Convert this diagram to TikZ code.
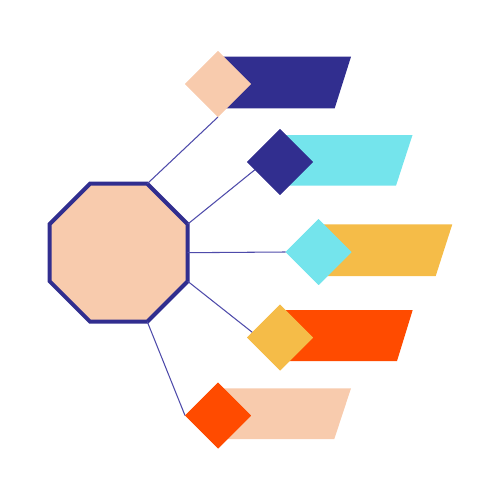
\documentclass[tikz,border=0pt]{standalone}
\usetikzlibrary{shapes.geometric}
\definecolor{navy}{HTML}{312E8F}
\definecolor{peach}{HTML}{F8CBAD}
\definecolor{cyanb}{HTML}{74E4EC}
\definecolor{yellowb}{HTML}{F5BC48}
\definecolor{redb}{HTML}{FF4B00}
\definecolor{linec}{HTML}{4E4BAA}
\begin{document}
\begin{tikzpicture}[x=0.02cm,y=-0.02cm,
  dia/.style={shape=diamond,inner sep=0pt,outer sep=0pt,minimum size=1.32cm},
  conn/.style={draw=linec,line width=0.6pt}]
\useasboundingbox (0,0) rectangle (500,500);
% bands
\fill[navy]    (218,56.7)  -- (351,56.7)  -- (334.7,108.3) -- (218,108.3) -- cycle;
\fill[cyanb]   (280,135)   -- (412.5,135) -- (396,185.7)   -- (280,185.7) -- cycle;
\fill[yellowb] (318.5,224.3) -- (452.3,224.3) -- (435.7,276) -- (318.5,276) -- cycle;
\fill[redb]    (280,310)   -- (412.7,310) -- (397,361)     -- (280,361) -- cycle;
\fill[peach]   (218,388.3) -- (351,388.3) -- (334.3,439)   -- (218,439) -- cycle;
% octagon
\node[regular polygon,regular polygon sides=8,minimum size=2.988cm,inner sep=0pt,outer sep=0pt,
      draw=navy,fill=peach,line width=0.08cm] (oct) at (118.7,252.7) {};
% diamonds
\node[dia,fill=peach]   (d1) at (218,84) {};
\node[dia,fill=navy]    (d2) at (280,162) {};
\node[dia,fill=cyanb]   (d3) at (318.5,252) {};
\node[dia,fill=yellowb] (d4) at (280,337.5) {};
\node[dia,fill=redb]    (d5) at (218,415.5) {};
\coordinate (c2) at (262,164);
\coordinate (c4) at (262,340);
% connectors
\draw[conn] (oct.corner 1) -- (d1.south);
\draw[conn] (oct.corner 8) -- (c2);
\draw[conn] (oct.east) -- (d3.west);
\draw[conn] (oct.corner 7) -- (c4);
\draw[conn] (oct.corner 6) -- (d5.west);
% diamonds above connectors
\fill[peach]   (d1.north) -- (d1.east) -- (d1.south) -- (d1.west) -- cycle;
\fill[navy]    (d2.north) -- (d2.east) -- (d2.south) -- (d2.west) -- cycle;
\fill[cyanb]   (d3.north) -- (d3.east) -- (d3.south) -- (d3.west) -- cycle;
\fill[yellowb] (d4.north) -- (d4.east) -- (d4.south) -- (d4.west) -- cycle;
\fill[redb]    (d5.north) -- (d5.east) -- (d5.south) -- (d5.west) -- cycle;
\end{tikzpicture}
\end{document}
